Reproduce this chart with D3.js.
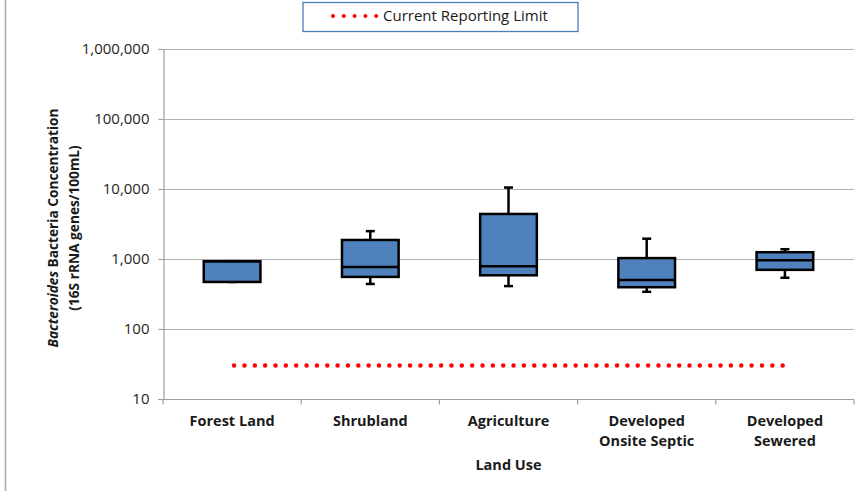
<!DOCTYPE html>
<html>
<head>
<meta charset="utf-8">
<script src="https://cdn.jsdelivr.net/npm/d3@7"></script>
<style>
  html, body { margin: 0; padding: 0; background: #fff; }
  svg { display: block; font-family: "Open Sans", Lato, "Liberation Sans", sans-serif; }
</style>
</head>
<body>
<svg id="chart" width="865" height="491"></svg>
<script>
// Land-use categories (two-line labels)
const categories = ["Forest Land", "Shrubland", "Agriculture", "Developed Onsite Septic", "Developed Sewered"];
const categoryLines = [["Forest Land"], ["Shrubland"], ["Agriculture"], ["Developed", "Onsite Septic"], ["Developed", "Sewered"]];

// Box-plot statistics (16S rRNA genes/100mL)
const whiskerLow  = [470, 440, 410, 340, 540];
const q1          = [470, 555, 585, 395, 700];
const median      = [930, 770, 790, 500, 960];
const q3          = [930, 1870, 4400, 1030, 1250];
const whiskerHigh = [930, 2500, 10500, 1950, 1380];

// Reporting limit
const reportingLimit = 30;

// Axis ticks
const yTicks = [10, 100, 1000, 10000, 100000, 1000000];

const svg = d3.select("#chart");
const margin = { left: 163, right: 854, top: 49, bottom: 399 };
const textColor = "#1a1a1a";

// Outer chart border on the left side
svg.append("line")
  .attr("x1", 5.5).attr("x2", 5.5).attr("y1", 0).attr("y2", 491)
  .attr("stroke", "#a6a6a6").attr("stroke-width", 1.5);

const x = d3.scaleBand().domain(categories).range([margin.left, margin.right]).padding(0);
const y = d3.scaleLog().domain([10, 1000000]).range([margin.bottom, margin.top]);

// Horizontal gridlines
svg.append("g").selectAll("line")
  .data(yTicks.slice(1))
  .join("line")
  .attr("x1", margin.left).attr("x2", margin.right)
  .attr("y1", d => Math.round(y(d)) + 0.5).attr("y2", d => Math.round(y(d)) + 0.5)
  .attr("stroke", "#b3b3b3").attr("stroke-width", 1.2);

// Y axis
const yAxis = d3.axisLeft(y).tickValues(yTicks).tickFormat(d3.format(",")).tickSize(5).tickPadding(9);
const gy = svg.append("g").attr("transform", `translate(${margin.left + 0.5},0)`).call(yAxis);
gy.select(".domain").attr("stroke", "#a0a0a0").attr("stroke-width", 1.2);
gy.selectAll(".tick line").attr("stroke", "#a0a0a0").attr("stroke-width", 1.2);
gy.selectAll(".tick text").attr("font-size", 15).attr("fill", "#262626")
  .attr("font-family", "'Open Sans', sans-serif");

// X axis with ticks at category boundaries
const gx = svg.append("g").attr("transform", `translate(0,${margin.bottom + 0.5})`);
gx.append("line").attr("x1", margin.left - 5).attr("x2", margin.right)
  .attr("stroke", "#a0a0a0").attr("stroke-width", 1.2);
const boundaries = categories.map(c => x(c)).concat([x(categories[categories.length - 1]) + x.bandwidth()]);
gx.selectAll("line.tk").data(boundaries).join("line").attr("class", "tk")
  .attr("x1", d => d).attr("x2", d => d).attr("y1", 0).attr("y2", 5)
  .attr("stroke", "#a0a0a0").attr("stroke-width", 1.2);

// Category labels
const labels = svg.append("g");
categoryLines.forEach((lines, i) => {
  const cx = x(categories[i]) + x.bandwidth() / 2;
  const t = labels.append("text").attr("x", cx).attr("y", 426)
    .attr("text-anchor", "middle").attr("font-size", 14.5).attr("font-weight", "bold").attr("fill", textColor);
  lines.forEach((ln, j) => t.append("tspan").attr("x", cx).attr("dy", j === 0 ? 0 : 19.5).text(ln));
});

// X axis title
svg.append("text").attr("x", (margin.left + margin.right) / 2).attr("y", 470)
  .attr("text-anchor", "middle").attr("font-size", 14.5).attr("font-weight", "bold").attr("fill", textColor)
  .text("Land Use");

// Y axis title
const yt = svg.append("text").attr("transform", "translate(58,228) rotate(-90)")
  .attr("text-anchor", "middle").attr("font-size", 13.7).attr("font-weight", "bold").attr("fill", textColor);
yt.append("tspan").attr("font-style", "italic").text("Bacteroides");
yt.append("tspan").text(" Bacteria Concentration");
svg.append("text").attr("transform", "translate(79,228) rotate(-90)")
  .attr("text-anchor", "middle").attr("font-size", 13.7).attr("font-weight", "bold").attr("fill", textColor)
  .text("(16S rRNA genes/100mL)");

// Boxes
const boxW = x.bandwidth() * 0.41;
const capW = 9;
const boxes = svg.append("g");
categories.forEach((c, i) => {
  const cx = x(c) + x.bandwidth() / 2;
  const g = boxes.append("g");
  // whiskers
  g.append("line").attr("x1", cx).attr("x2", cx)
    .attr("y1", y(whiskerHigh[i])).attr("y2", y(q3[i]))
    .attr("stroke", "#000").attr("stroke-width", 2.5);
  g.append("line").attr("x1", cx).attr("x2", cx)
    .attr("y1", y(q1[i])).attr("y2", y(whiskerLow[i]))
    .attr("stroke", "#000").attr("stroke-width", 2.5);
  [whiskerHigh[i], whiskerLow[i]].forEach(v => {
    g.append("line").attr("x1", cx - capW / 2).attr("x2", cx + capW / 2)
      .attr("y1", y(v)).attr("y2", y(v))
      .attr("stroke", "#000").attr("stroke-width", 2.5);
  });
  // box
  g.append("rect").attr("x", cx - boxW / 2).attr("width", boxW)
    .attr("y", y(q3[i])).attr("height", y(q1[i]) - y(q3[i]))
    .attr("fill", "#4f81bd").attr("stroke", "#000").attr("stroke-width", 2.5);
  // median
  g.append("line").attr("x1", cx - boxW / 2).attr("x2", cx + boxW / 2)
    .attr("y1", y(median[i])).attr("y2", y(median[i]))
    .attr("stroke", "#000").attr("stroke-width", 2.5);
});

// Reporting limit (dotted red line spanning first to last category centre)
const firstCx = x(categories[0]) + x.bandwidth() / 2;
const lastCx = x(categories[categories.length - 1]) + x.bandwidth() / 2;
svg.append("line")
  .attr("x1", firstCx + 2).attr("x2", lastCx)
  .attr("y1", y(reportingLimit)).attr("y2", y(reportingLimit))
  .attr("stroke", "#ff0000").attr("stroke-width", 4.5)
  .attr("stroke-linecap", "round").attr("stroke-dasharray", "0 10.35");

// Legend
const lg = svg.append("g");
lg.append("rect").attr("x", 303).attr("y", 2.5).attr("width", 275).attr("height", 29)
  .attr("fill", "#fff").attr("stroke", "#4a7ebb").attr("stroke-width", 1.3);
lg.append("line").attr("x1", 333).attr("x2", 377).attr("y1", 16).attr("y2", 16)
  .attr("stroke", "#ff0000").attr("stroke-width", 4)
  .attr("stroke-linecap", "round").attr("stroke-dasharray", "0 10.8");
lg.append("text").attr("x", 383).attr("y", 21).attr("font-size", 15).attr("fill", textColor)
  .text("Current Reporting Limit");
</script>
</body>
</html>
